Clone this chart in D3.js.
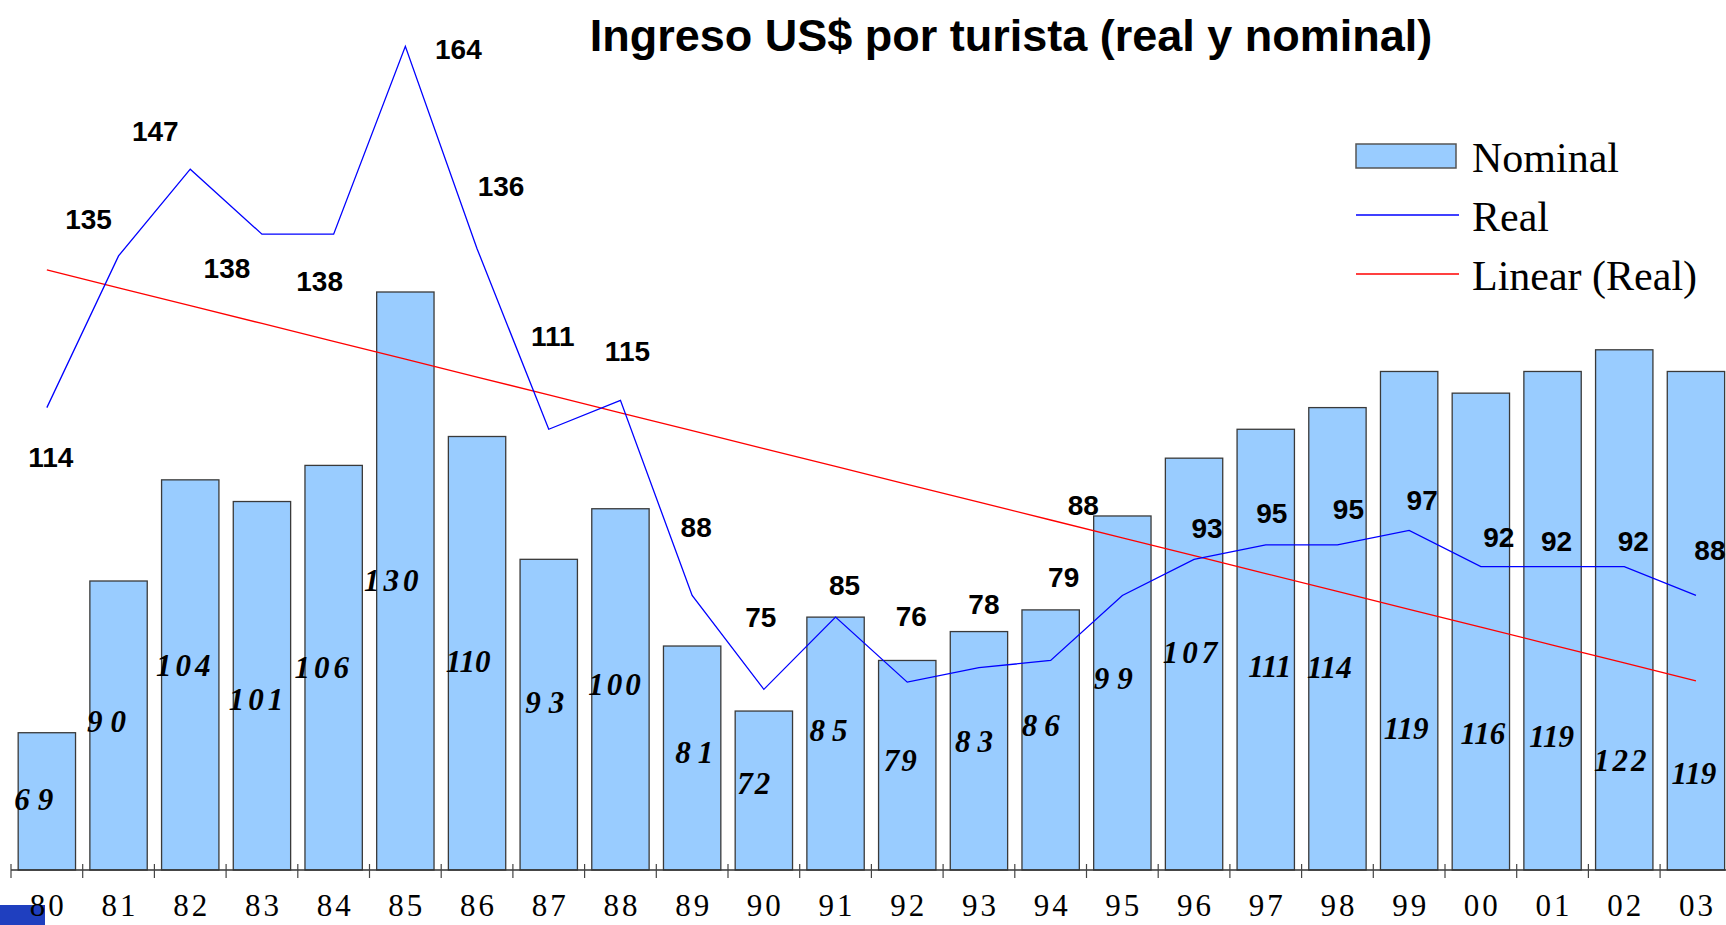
<!DOCTYPE html>
<html>
<head>
<meta charset="utf-8">
<script src="https://cdn.jsdelivr.net/npm/d3@7"></script>
<style>
  body { margin: 0; background: #fff; }
  .title { font-family: "Liberation Sans", Arial, sans-serif; font-weight: bold; font-size: 45px; }
  .real-label { font-family: "Liberation Sans", Arial, sans-serif; font-weight: bold; font-size: 28px; }
  .nom-label { font-family: "Liberation Serif", "Times New Roman", serif; font-weight: bold; font-style: italic; font-size: 31px; }
  .x-label { font-family: "Liberation Serif", "Times New Roman", serif; font-size: 31px; letter-spacing: 3px; }
  .legend text { font-family: "Liberation Serif", "Times New Roman", serif; font-size: 42px; }
</style>
</head>
<body>
<svg id="chart" width="1726" height="925"></svg>
<script>
// données : ingreso US$ por turista
var years = ["80","81","82","83","84","85","86","87","88","89","90","91",
             "92","93","94","95","96","97","98","99","00","01","02","03"];
var nominal = [69, 90, 104, 101, 106, 130, 110, 93, 100, 81, 72, 85,
               79, 83, 86, 99, 107, 111, 114, 119, 116, 119, 122, 119];
var real = [114, 135, 147, 138, 138, 164, 136, 111, 115, 88, 75, 85,
            76, 78, 79, 88, 93, 95, 95, 97, 92, 92, 92, 88];
var legendNames = ["Nominal", "Real", "Linear (Real)"];

// placement des étiquettes (comme déplacées à la main dans l'original), en pixels
var realLabelDx = [4, -30, -35, -35, -14, 53, 24, 4, 7, 4, -3, 9, 4, 5, 13, -39, 13, 6, 11, 13, 18, 4, 9, 14];
var realLabelDy = [59, -27, -28, 44, 57, 13, -53, -83, -39, -58, -62, -22, -56, -54, -73, -80, -21, -22, -26, -20, -20, -16, -16, -35];
var nomLabelDx = [-13, -12, -7, -6, -12, -14, -9, -4, -6, 2, -10, -7, -7, -5, -10, -9, -4, 4, -8, -3, 2, -1, -4, -2];
var nomLabelDy = [77, 151, 196, 208, 213, 299, 235, 154, 186, 117, 83, 124, 111, 120, 126, 173, 205, 248, 270, 368, 351, 376, 421, 413];
var nomLabelGap = [8, 8, 4, 4, 4, 4, 0, 8, 3, 7, 2, 7, 2, 7, 7, 8, 4, 0, 0, 0, 0, 0, 3, 0];

var svg = d3.select("#chart");

var x0 = 11, step = 71.7;
var xTick = d3.scaleBand().domain(years).range([x0, x0 + step * years.length]).padding(0);
var x = d3.scaleBand().domain(years).range(xTick.range()).paddingInner(0.2).paddingOuter(0.1);
var y = d3.scaleLinear().domain([50, 170]).range([870, 3]);
var cx = d => x(d) + x.bandwidth() / 2;

// droite de tendance (moindres carrés sur la série réelle)
var n = real.length;
var mi = d3.mean(d3.range(n)), mv = d3.mean(real);
var slope = d3.sum(real, (v, i) => (i - mi) * (v - mv)) / d3.sum(d3.range(n), i => (i - mi) * (i - mi));
var trend = d3.range(n).map(i => mv + slope * (i - mi));

// petit logo bleu dans le coin (sous le texte de l'axe)
svg.append("rect")
  .attr("x", 0).attr("y", 905).attr("width", 45).attr("height", 20)
  .attr("fill", "#1f3fbf");

// barres nominales
svg.append("g").selectAll("rect")
  .data(years)
  .enter()
  .append("rect")
  .attr("x", d => x(d))
  .attr("y", (d, i) => y(nominal[i]))
  .attr("width", x.bandwidth())
  .attr("height", (d, i) => y(50) - y(nominal[i]))
  .attr("fill", "#99ccff")
  .attr("stroke", "#3a3a3a")
  .attr("stroke-width", 1.3);

svg.append("g").selectAll("text")
  .data(years)
  .enter()
  .append("text")
  .attr("class", "nom-label")
  .attr("text-anchor", "middle")
  .attr("x", (d, i) => cx(d) + nomLabelDx[i] + nomLabelGap[i] / 2)
  .attr("y", (d, i) => y(nominal[i]) + nomLabelDy[i])
  .style("letter-spacing", (d, i) => nomLabelGap[i] + "px")
  .text((d, i) => nominal[i]);

// axe X
var axis = svg.append("g").attr("transform", "translate(0,870)");
axis.append("line")
  .attr("x1", x0).attr("x2", xTick.range()[1])
  .attr("stroke", "#333").attr("stroke-width", 1.5);
axis.selectAll(".tick-line")
  .data(years.concat(["end"]))
  .enter()
  .append("line")
  .attr("x1", (d, i) => i < years.length ? xTick(d) : xTick.range()[1])
  .attr("x2", (d, i) => i < years.length ? xTick(d) : xTick.range()[1])
  .attr("y1", -6).attr("y2", 8)
  .attr("stroke", "#444").attr("stroke-width", 1.2);
axis.selectAll(".x-label")
  .data(years)
  .enter()
  .append("text")
  .attr("class", "x-label")
  .attr("text-anchor", "middle")
  .attr("x", d => cx(d) + 1.5)
  .attr("y", 46)
  .text(d => d);

// tendance linéaire + série réelle
var line = d3.line().x((v, i) => cx(years[i])).y(v => y(v));
svg.append("path").datum(trend)
  .attr("d", line).attr("fill", "none")
  .attr("stroke", "#ff0000").attr("stroke-width", 1.3);
svg.append("path").datum(real)
  .attr("d", line).attr("fill", "none")
  .attr("stroke", "#0000ff").attr("stroke-width", 1.3);

svg.append("g").selectAll("text")
  .data(years)
  .enter()
  .append("text")
  .attr("class", "real-label")
  .attr("text-anchor", "middle")
  .attr("x", (d, i) => cx(d) + realLabelDx[i])
  .attr("y", (d, i) => y(real[i]) + realLabelDy[i])
  .text((d, i) => real[i]);

// titre
svg.append("text")
  .attr("class", "title")
  .attr("text-anchor", "middle")
  .attr("x", 1011).attr("y", 51)
  .text("Ingreso US$ por turista (real y nominal)");

// légende
var legend = svg.append("g").attr("class", "legend").attr("transform", "translate(1356,0)");
var rows = legend.selectAll("g")
  .data(legendNames)
  .enter()
  .append("g")
  .attr("transform", (d, i) => "translate(0," + (156 + i * 59) + ")");
rows.filter((d, i) => i === 0).append("rect")
  .attr("x", 0).attr("y", -12).attr("width", 100).attr("height", 24)
  .attr("fill", "#99ccff").attr("stroke", "#555").attr("stroke-width", 1.5);
rows.filter((d, i) => i > 0).append("line")
  .attr("x1", 0).attr("x2", 103)
  .attr("stroke", (d, i) => i === 0 ? "#0000ff" : "#ff0000")
  .attr("stroke-width", 1.3);
rows.append("text")
  .attr("x", 116).attr("y", 16)
  .text(d => d);
</script>
</body>
</html>
